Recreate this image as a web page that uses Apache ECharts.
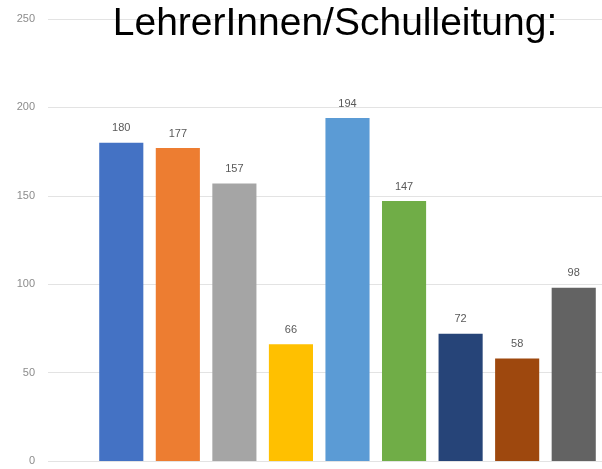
<!DOCTYPE html>
<html><head><meta charset="utf-8">
<script src="https://cdn.jsdelivr.net/npm/echarts@6/dist/echarts.min.js"></script>
<style>html,body{margin:0;padding:0;background:#fff}#c{width:602px;height:469px}</style>
</head><body><div id="c"></div>
<script>
var titleText = "LehrerInnen/Schulleitung:";
var categories = ["1", "2", "3", "4", "5", "6", "7", "8", "9"];
var values = [180, 177, 157, 66, 194, 147, 72, 58, 98];
var barColors = ["#4472C4", "#ED7D31", "#A5A5A5", "#FFC000", "#5B9BD5", "#70AD47", "#264478", "#9E480E", "#636363"];
var yTicks = [0, 50, 100, 150, 200, 250];

var chart = echarts.init(document.getElementById('c'));
chart.setOption({
  animation: false,
  title: {
    text: titleText, left: 330, top: 0, textAlign: 'center',
    textStyle: {fontFamily: 'Liberation Sans', fontSize: 39, fontWeight: 'normal', color: '#000'}
  },
  grid: [
    {left: 48, right: 0, top: 19, bottom: 8},
    {left: 93, right: 0, top: 19, bottom: 8}
  ],
  xAxis: [
    {gridIndex: 0, type: 'category', data: categories, show: false},
    {gridIndex: 1, type: 'category', data: categories, axisLine: {show: false}, axisTick: {show: false}, axisLabel: {show: false}}
  ],
  yAxis: [
    {gridIndex: 0, type: 'value', min: yTicks[0], max: yTicks[yTicks.length - 1], interval: 50,
     axisLine: {show: false}, axisTick: {show: false},
     axisLabel: {margin: 13, color: '#8c8c8c', fontSize: 11, fontFamily: 'Liberation Sans'},
     splitLine: {lineStyle: {color: '#e3e3e3', width: 1}}},
    {gridIndex: 1, type: 'value', min: yTicks[0], max: yTicks[yTicks.length - 1], interval: 50, show: false, splitLine: {show: false}}
  ],
  series: [{
    type: 'bar', xAxisIndex: 1, yAxisIndex: 1,
    barCategoryGap: '22%',
    data: values.map(function (v, i) { return {value: v, itemStyle: {color: barColors[i]}}; }),
    label: {show: true, position: 'top', distance: 9, color: '#595959', fontSize: 11, fontFamily: 'Liberation Sans'}
  }]
});
</script></body></html>
